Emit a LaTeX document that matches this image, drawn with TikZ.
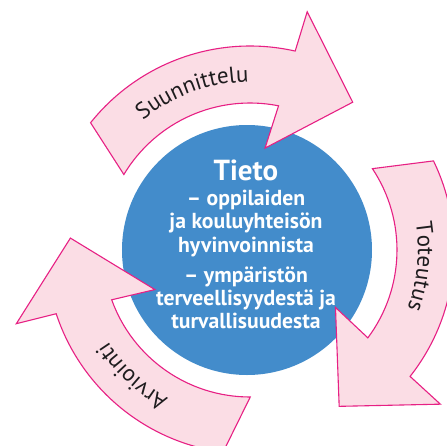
\documentclass[tikz,border=0pt]{standalone}
\usepackage{fontspec}
\setmainfont{PT Sans}
\usetikzlibrary{decorations.text}
\definecolor{circblue}{RGB}{67,140,203}
\definecolor{pinkfill}{RGB}{251,221,229}
\definecolor{pinkline}{RGB}{231,32,132}
\definecolor{labelink}{RGB}{30,28,30}
\newcommand\cyclearrowpath{(141.4:204) arc[start angle=141.4, end angle=77.2, radius=204] -- (76.5:245) -- (55.2:180) -- (81.6:103) -- (78.8:147) arc[start angle=78.8, end angle=149.1, radius=147] -- cycle}
\begin{document}
\begin{tikzpicture}[x=1pt,y=1pt,
  arrowshape/.style={fill=pinkfill, draw=pinkline, line width=1.1pt, line join=miter},
  centerline/.style={text=white, font=\bfseries\fontsize{21.7}{24}\selectfont, anchor=base, inner sep=0pt}
]
\useasboundingbox (-250,-195) rectangle (197,250);
\fill[white] (-250,-195) rectangle (197,250);

\node[circle, fill=circblue, minimum size=250pt, inner sep=0pt] (core) at (-3,0) {};

% Suunnittelu
\begin{scope}[rotate=0]
  \draw[arrowshape] \cyclearrowpath;
  \path[decorate, decoration={text along path, text color=labelink, text align=center,
    text={|\fontsize{23}{25}\selectfont|Suunnittelu}}]
    (150:168) arc[start angle=150, end angle=70, radius=168];
\end{scope}
% Toteutus
\begin{scope}[rotate=-115.5]
  \draw[arrowshape] \cyclearrowpath;
  \path[decorate, decoration={text along path, text color=labelink, text align=center,
    text={|\fontsize{23}{25}\selectfont|Toteutus}}]
    (150:168) arc[start angle=150, end angle=70, radius=168];
\end{scope}
% Arviointi
\begin{scope}[rotate=121]
  \draw[arrowshape] \cyclearrowpath;
  \path[decorate, decoration={text along path, text color=labelink, text align=center,
    text={|\fontsize{23}{25}\selectfont|Arviointi}}]
    (146:169) arc[start angle=146, end angle=66, radius=169];
\end{scope}

\node[centerline, font=\bfseries\fontsize{29}{32}\selectfont] (t0) at (-4,70) {Tieto};
\node[centerline] (t1) at (-4,45) {– oppilaiden};
\node[centerline] (t2) at (-4,22) {ja kouluyhteisön};
\node[centerline] (t3) at (-4,-2) {hyvinvoinnista};
\node[centerline] (t4) at (-4,-32) {– ympäristön};
\node[centerline] (t5) at (-4,-55) {terveellisyydestä ja};
\node[centerline] (t6) at (-4,-78) {turvallisuudesta};
\end{tikzpicture}
\end{document}
